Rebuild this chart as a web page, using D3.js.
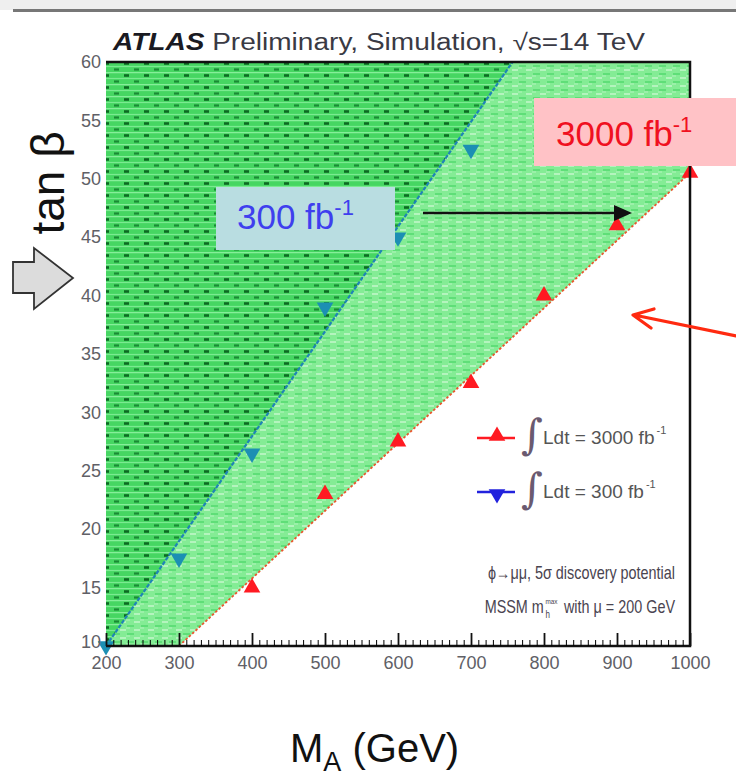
<!DOCTYPE html>
<html><head><meta charset="utf-8">
<script src="https://cdn.jsdelivr.net/npm/d3@7"></script>
<style>body{margin:0;background:#fff;} svg{display:block;font-family:"Liberation Sans",Arial,sans-serif;}</style>
</head><body><svg id="c" width="736" height="776"></svg>
<script>
// ---- data ----
const xTicks = [200,300,400,500,600,700,800,900,1000];
const xMinorTicks = [210,220,230,240,250,260,270,280,290,310,320,330,340,350,360,370,380,390,410,420,430,440,450,460,470,480,490,510,520,530,540,550,560,570,580,590,610,620,630,640,650,660,670,680,690,710,720,730,740,750,760,770,780,790,810,820,830,840,850,860,870,880,890,910,920,930,940,950,960,970,980,990];
const yTicks = [10,15,20,25,30,35,40,45,50,55,60];
const lumi3000_MA   = [400,500,600,700,800,900,1000];
const lumi3000_tanb = [15,23,27.5,32.5,40,46,50.5];
const lumi300_MA    = [200,300,400,500,600,700];
const lumi300_tanb  = [10,17.5,26.5,39,45,52.5];
const contour300_MA   = [200,757];
const contour300_tanb = [10,60];
const contour3000_MA   = [300,1000];
const contour3000_tanb = [10,50.5];
const xDomain = [200,1000];
const yDomain = [10,60];

const svg = d3.select("#c");
const x = d3.scaleLinear(xDomain,[106,690]);
const y = d3.scaleLinear(yDomain,[646,62]);

// top gray bar (screenshot frame)
svg.append("rect").attr("x",0).attr("y",0).attr("width",736).attr("height",10).attr("fill","#efefef");
svg.append("rect").attr("x",13).attr("y",9).attr("width",723).attr("height",3).attr("fill","#777");

// patterns
const defs = svg.append("defs");
const pd = defs.append("pattern").attr("id","pdark").attr("patternUnits","userSpaceOnUse").attr("width",20).attr("height",12);
pd.append("rect").attr("width",20).attr("height",12).attr("fill","#46d662");
pd.append("path").attr("d","M0,0.5h20").attr("stroke","#86ee9a").attr("stroke-width",1.5);
pd.append("path").attr("d","M0,6.5h20").attr("stroke","#7aea90").attr("stroke-width",1.2);
pd.append("path").attr("d","M4,3.5h5").attr("stroke","#0c6a22").attr("stroke-width",2.6);
pd.append("path").attr("d","M14,9.5h5").attr("stroke","#1a8a34").attr("stroke-width",2.2);
const pl = defs.append("pattern").attr("id","plight").attr("patternUnits","userSpaceOnUse").attr("width",14).attr("height",8);
pl.append("rect").attr("width",14).attr("height",8).attr("fill","#84ec95");
pl.append("path").attr("d","M1,2h7").attr("stroke","#52da6e").attr("stroke-width",1.5);
pl.append("path").attr("d","M8,6h6").attr("stroke","#c0f7c9").attr("stroke-width",1.6);
pl.append("path").attr("d","M0,4h4").attr("stroke","#abf3b6").attr("stroke-width",1.2);

const line = d3.line().x(d=>x(d[0])).y(d=>y(d[1]));
const c300 = contour300_MA.map((m,i)=>[m,contour300_tanb[i]]);
const c3000 = contour3000_MA.map((m,i)=>[m,contour3000_tanb[i]]);

// light region: left of 3000 fb-1 contour
const lightPoly = [[xDomain[0],yDomain[0]], ...c3000, [xDomain[1],yDomain[1]], [xDomain[0],yDomain[1]]];
svg.append("path").attr("d",line(lightPoly)+"Z").attr("fill","url(#plight)");
// dark region: left of 300 fb-1 contour
const darkPoly = [...c300, [xDomain[0],yDomain[1]]];
svg.append("path").attr("d",line(darkPoly)+"Z").attr("fill","url(#pdark)");

// contour lines
svg.append("path").attr("d",line(c300)).attr("fill","none").attr("stroke","#1f84b6").attr("stroke-width",2.2).attr("stroke-dasharray","4,1.5");
svg.append("path").attr("d",line(c3000)).attr("fill","none").attr("stroke","#e8572e").attr("stroke-width",1.8).attr("stroke-dasharray","2.5,2");

// markers
const tri = d3.symbol(d3.symbolTriangle,120);
svg.append("g").selectAll("path").data(lumi3000_MA.map((m,i)=>[m,lumi3000_tanb[i]])).join("path")
  .attr("d",tri).attr("transform",d=>`translate(${x(d[0])},${y(d[1])})`).attr("fill","#ff1a22");
svg.append("g").selectAll("path").data(lumi300_MA.map((m,i)=>[m,lumi300_tanb[i]])).join("path")
  .attr("d",tri).attr("transform",d=>`translate(${x(d[0])},${y(d[1])}) rotate(180)`).attr("fill","#1c8fb3");

// frame
const fr = svg.append("g").attr("stroke","#111").attr("stroke-width",2.5).attr("fill","none");
fr.append("path").attr("d",`M${x(200)},${y(60)}H${x(1000)}V${y(10)}H${x(200)}`);

// axes
const ax = svg.append("g").attr("transform",`translate(0,${y(10)})`)
  .call(d3.axisBottom(x).tickValues(xTicks).tickSize(-13).tickPadding(8).tickFormat(d3.format("d")));
svg.append("g").attr("transform",`translate(0,${y(10)})`)
  .call(d3.axisBottom(x).tickValues(xMinorTicks).tickSize(-6).tickFormat(""))
  .call(g=>g.select(".domain").remove());
ax.select(".domain").remove();
ax.selectAll("line").attr("stroke","#111").attr("stroke-width",1.8);
ax.selectAll("text").attr("font-size",18).attr("fill","#606066").attr("font-family","Liberation Sans Narrow, Liberation Sans, Arial").attr("dy","0.82em");
const ay = svg.append("g").attr("transform",`translate(${x(200)},0)`)
  .call(d3.axisLeft(y).tickValues(yTicks).tickSize(0).tickPadding(5));
ay.select(".domain").remove();
ay.selectAll("text").attr("font-size",18).attr("fill","#606066").attr("font-family","Liberation Sans Narrow, Liberation Sans, Arial");
ay.selectAll(".tick").filter(d=>d===10).select("text").attr("dy","0.1em");

// header
const hd = svg.append("text").attr("x",113).attr("y",50).attr("font-size",23).attr("fill","#3a3a44")
  .attr("textLength",532).attr("lengthAdjust","spacingAndGlyphs");
hd.append("tspan").attr("font-weight","bold").attr("font-style","italic").attr("fill","#1a1a22").text("ATLAS");
hd.append("tspan").text(" Preliminary, Simulation, √s=14 TeV");

// legend
const lg = svg.append("g");
lg.append("line").attr("x1",477).attr("x2",515).attr("y1",438).attr("y2",438).attr("stroke","#ff1a22").attr("stroke-width",2.5);
lg.append("path").attr("d",tri).attr("transform","translate(497,436)").attr("fill","#ff1a22");
lg.append("line").attr("x1",477).attr("x2",515).attr("y1",492).attr("y2",492).attr("stroke","#2222dd").attr("stroke-width",2.5);
lg.append("path").attr("d",tri).attr("transform","translate(497,494) rotate(180)").attr("fill","#2222dd");
[[428,"Ldt = 3000 fb"],[482,"Ldt = 300 fb"]].forEach(([yy,t])=>{
  lg.append("text").attr("x",521).attr("y",yy+21).attr("font-size",42).attr("fill","#6a5a70").attr("font-family","DejaVu Serif").attr("font-style","italic").text("∫");
  const tt = lg.append("text").attr("x",543).attr("y",yy+16).attr("font-size",19).attr("fill","#555");
  tt.append("tspan").text(t);
  tt.append("tspan").attr("font-size",11).attr("dy",-10).attr("dx",2).text("-1");
});

// info text (condensed)
const info1 = svg.append("g").attr("transform","translate(675,579) scale(0.8,1)");
info1.append("text").attr("text-anchor","end").attr("font-size",18).attr("fill","#4a4450").text("ϕ→μμ, 5σ discovery potential");
const info2 = svg.append("g").attr("transform","translate(675,613) scale(0.8,1)");
info2.append("text").attr("text-anchor","end").attr("font-size",18).attr("fill","#4a4450").text("with μ = 200 GeV");
info2.append("text").attr("x",-164).attr("text-anchor","end").attr("font-size",18).attr("fill","#4a4450").text("MSSM m");
info2.append("text").attr("x",-162).attr("y",5).attr("font-size",10).attr("fill","#4a4450").text("h");
info2.append("text").attr("x",-162).attr("y",-9).attr("font-size",8).attr("fill","#4a4450").text("max");

// annotation boxes
svg.append("rect").attr("x",216).attr("y",187).attr("width",179).attr("height",63).attr("fill","#b9dde1");
const t300 = svg.append("text").attr("x",237).attr("y",229).attr("font-size",35).attr("fill","#3f3fee");
t300.append("tspan").text("300 fb");
t300.append("tspan").attr("font-size",22).attr("dy",-14).text("-1");
svg.append("rect").attr("x",534).attr("y",98).attr("width",202).attr("height",68).attr("fill","#ffc2c6");
const t3000 = svg.append("text").attr("x",556).attr("y",146).attr("font-size",35).attr("fill","#f01020");
t3000.append("tspan").text("3000 fb");
t3000.append("tspan").attr("font-size",22).attr("dy",-14).text("-1");

// black arrow
svg.append("line").attr("x1",423).attr("y1",213).attr("x2",616).attr("y2",213).attr("stroke","#111").attr("stroke-width",2.5);
svg.append("path").attr("d","M632,213 L614,205 L614,221 Z").attr("fill","#111");
// red arrow
svg.append("path").attr("d","M736,336 L634,315 M654,309 L633,315 L651,328").attr("fill","none").attr("stroke","#ff2a10").attr("stroke-width",3.2).attr("stroke-linecap","round").attr("stroke-linejoin","round");

// y label
svg.append("text").attr("transform","translate(64,183) rotate(-90)").attr("text-anchor","middle").attr("font-size",46).attr("fill","#111").text("tan β");
// gray block arrow
svg.append("path").attr("d","M13,262 H34 V248 L73,278 L34,309 V293 H13 Z").attr("fill","#dcdcdc").attr("stroke","#333").attr("stroke-width",1.8);

// x label
const xl = svg.append("text").attr("x",290).attr("y",762).attr("font-size",40).attr("fill","#111");
xl.append("tspan").text("M");
xl.append("tspan").attr("font-size",27).attr("dy",9).text("A");
xl.append("tspan").attr("dy",-9).text(" (GeV)");
</script></body></html>
